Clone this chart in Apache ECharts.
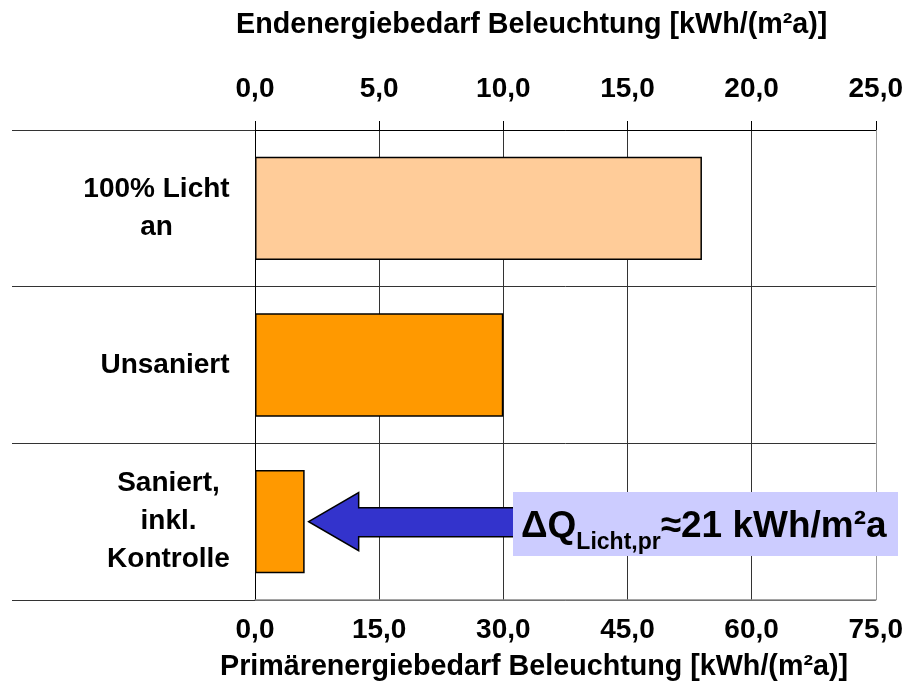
<!DOCTYPE html>
<html><head><meta charset="utf-8">
<script src="https://cdn.jsdelivr.net/npm/echarts@6/dist/echarts.min.js"></script>
<style>html,body{margin:0;padding:0;background:#fff}#c{width:906px;height:688px}</style>
</head><body><div id="c"></div>
<script>
const categories = ['100% Licht\nan', 'Unsaniert', 'Saniert,\ninkl.\nKontrolle'];
const endenergie = [18.0, 10.0, 2.0];           // kWh/(m²a), top axis
const barColors = ['#FFCC99', '#FF9900', '#FF9900'];
const topTicks = { min: 0, max: 25, interval: 5 };
const bottomTicks = { min: 0, max: 75, interval: 15 };
const topTitle = 'Endenergiebedarf Beleuchtung [kWh/(m²a)]';
const bottomTitle = 'Primärenergiebedarf Beleuchtung [kWh/(m²a)]';
const deltaValue = 21;

const FONT = '"Liberation Sans", Arial, sans-serif';
const FS = 28;
const fmt = v => v.toFixed(1).replace('.', ',');

// measure category label lines so each block is right-aligned while its lines are centred
const ctx = document.createElement('canvas').getContext('2d');
ctx.font = 'bold ' + FS + 'px ' + FONT;
const rich = {};
categories.forEach((c, i) => {
  const w = Math.max(...c.split('\n').map(l => ctx.measureText(l).width));
  rich['c' + i] = { width: Math.ceil(w), align: 'center', fontFamily: FONT, fontWeight: 'bold', fontSize: FS, color: '#000', lineHeight: 38 };
});

const chart = echarts.init(document.getElementById('c'), null, { renderer: 'canvas' });

chart.setOption({
  animation: false,
  backgroundColor: '#fff',
  grid: { left: 255, right: 30, top: 130, bottom: 88 },
  xAxis: [
    {
      type: 'value', position: 'top', min: topTicks.min, max: topTicks.max, interval: topTicks.interval,
      axisLine: { show: true, lineStyle: { color: '#000', width: 1 } },
      axisTick: { show: true, length: 9, lineStyle: { color: '#000' } },
      axisLabel: { formatter: fmt, fontFamily: FONT, fontWeight: 'bold', fontSize: FS, color: '#000', margin: 27 },
      splitLine: { show: true, lineStyle: { color: ['#333', '#333', '#333', '#333', '#333', '#999'], width: 1 } }
    },
    {
      type: 'value', position: 'bottom', min: bottomTicks.min, max: bottomTicks.max, interval: bottomTicks.interval,
      axisLine: { show: true, lineStyle: { color: '#888', width: 1.5 } },
      axisTick: { show: false },
      axisLabel: { formatter: fmt, fontFamily: FONT, fontWeight: 'bold', fontSize: FS, color: '#000', margin: 16 },
      splitLine: { show: false }
    }
  ],
  yAxis: {
    type: 'category', data: categories, inverse: true,
    axisLine: { show: true, lineStyle: { color: '#000', width: 1 } },
    axisTick: { show: true, length: 243, lineStyle: { color: '#333' } },
    axisLabel: {
      align: 'right', margin: 25, rich: rich,
      formatter: (v, i) => v.split('\n').map(l => '{c' + i + '|' + l + '}').join('\n')
    },
    splitLine: { show: true, lineStyle: { color: '#333', width: 1 } }
  },
  series: [{
    type: 'bar', xAxisIndex: 0, yAxisIndex: 0, barWidth: '66%',
    data: endenergie.map((v, i) => ({ value: v, itemStyle: { color: barColors[i] } })),
    itemStyle: { borderColor: '#000', borderWidth: 1.5 },
    z: 3
  }]
});

// Annotation anchored to the "Saniert" bar
const tip = chart.convertToPixel({ xAxisIndex: 0, yAxisIndex: 0 }, [endenergie[2], 2]);
const tipX = tip[0] + 4, cy = tip[1];
const headBase = tipX + 50, boxLeft = 513, boxRight = 898, boxTop = 492, boxBot = 556;
chart.setOption({
  graphic: [
    { type: 'text', x: 236, y: 25, style: { text: topTitle, verticalAlign: 'middle', fontFamily: FONT, fontWeight: 'bold', fontSize: 28.7, fill: '#000' } },
    { type: 'text', x: 220, y: 667, style: { text: bottomTitle, verticalAlign: 'middle', fontFamily: FONT, fontWeight: 'bold', fontSize: 28.7, fill: '#000' } },
    {
      type: 'polygon', z: 10,
      shape: { points: [[tipX, cy], [headBase, cy - 29], [headBase, cy - 14], [boxLeft + 5, cy - 14], [boxLeft + 5, cy + 15], [headBase, cy + 15], [headBase, cy + 29]] },
      style: { fill: '#3333CC', stroke: '#000', lineWidth: 1.5 }
    },
    { type: 'rect', z: 11, shape: { x: boxLeft, y: boxTop, width: boxRight - boxLeft, height: boxBot - boxTop }, style: { fill: '#CCCCFF' } },
    {
      type: 'text', z: 12, x: 521, y: 501,
      style: {
        text: '{big|ΔQ}{sub|Licht,pr}{big|≈' + deltaValue + ' kWh/m²a}',
        rich: {
          big: { fontFamily: FONT, fontWeight: 'bold', fontSize: 37, fill: '#000', lineHeight: 44, verticalAlign: 'bottom' },
          sub: { fontFamily: FONT, fontWeight: 'bold', fontSize: 23, fill: '#000', lineHeight: 44, verticalAlign: 'bottom', padding: [0, 0, -9, 0] }
        }
      }
    }
  ]
});
</script></body></html>
